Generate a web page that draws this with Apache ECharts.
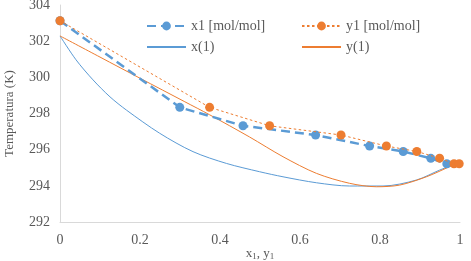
<!DOCTYPE html>
<html><head><meta charset="utf-8">
<script src="https://cdn.jsdelivr.net/npm/echarts@6/dist/echarts.min.js"></script>
<style>html,body{margin:0;padding:0;background:#fff}#c{width:471px;height:261px}</style>
</head><body><div id="c"></div>
<script>
// Experimental points
const expX1 = [0, 0.2995, 0.4575, 0.639, 0.774, 0.858, 0.927, 0.967];
const expTx = [303.13, 298.34, 297.32, 296.81, 296.20, 295.90, 295.52, 295.22];
const expY1 = [0, 0.374, 0.524, 0.7025, 0.816, 0.892, 0.949, 0.985, 0.998];
const expTy = [303.13, 298.34, 297.32, 296.81, 296.20, 295.90, 295.53, 295.22, 295.22];
// Model curves
const modX = [0, 0.04, 0.0825, 0.125, 0.166, 0.249, 0.3325, 0.416, 0.499, 0.5575, 0.641, 0.724, 0.8075, 0.891, 0.949, 1];
const modTx = [302.29, 300.97, 299.86, 298.92, 298.19, 296.91, 295.89, 295.24, 294.78, 294.5, 294.17, 293.99, 293.99, 294.32, 294.87, 295.32];
const modY = [0, 0.1, 0.2, 0.312, 0.374, 0.474, 0.5575, 0.641, 0.724, 0.791, 0.849, 0.916, 0.974, 1];
const modTy = [302.29, 301.12, 299.95, 298.65, 297.93, 296.7, 295.61, 294.69, 294.14, 293.95, 294.04, 294.5, 295.06, 295.32];
const xTicks = {min: 0, max: 1, interval: 0.2};
const yTicks = {min: 292, max: 304, interval: 2};
const names = ['x1 [mol/mol]', 'y1 [mol/mol]', 'x(1)', 'y(1)'];

const zip = (a, b) => a.map((v, i) => [v, b[i]]);
const BLUE = '#5B9BD5', ORANGE = '#ED7D31';
const FONT = '"Liberation Serif", "Times New Roman", serif';
const txt = {fontFamily: FONT, fontSize: 14, color: '#595959'};
const leg = (name, left, top, noSym) => {
  const l = {
    data: [name], left: left, top: top, itemWidth: 39, itemHeight: 11, itemGap: 5,
    padding: 0, textStyle: Object.assign({}, txt)
  };
  if (noSym) l.itemStyle = {color: 'rgba(0,0,0,0)', borderColor: 'rgba(0,0,0,0)', borderWidth: 0, opacity: 0};
  return l;
};

const chart = echarts.init(document.getElementById('c'), null, {renderer: 'canvas'});
chart.setOption({
  animation: false,
  backgroundColor: '#fff',
  grid: {left: 60, right: 11, top: 5, bottom: 39, containLabel: false, outerBoundsMode: 'none'},
  legend: [leg(names[0], 146, 19), leg(names[1], 301, 19), leg(names[2], 146, 40, true), leg(names[3], 301, 40, true)],
  xAxis: {
    type: 'value', min: xTicks.min, max: xTicks.max, interval: xTicks.interval,
    name: 'x{s|1}, y{s|1}', nameLocation: 'middle', nameGap: 24, nameMoveOverlap: false,
    nameTextStyle: {fontFamily: FONT, fontSize: 13, color: '#595959', rich: {s: {fontFamily: FONT, fontSize: 9, color: '#595959', verticalAlign: 'bottom', padding: [6, 0, 0, 0]}}},
    axisLine: {show: true, lineStyle: {color: '#D9D9D9', width: 1}},
    axisTick: {show: false}, splitLine: {show: false},
    axisLabel: Object.assign({margin: 11}, txt)
  },
  yAxis: {
    type: 'value', min: yTicks.min, max: yTicks.max, interval: yTicks.interval,
    name: 'Temperatura (K)', nameLocation: 'middle', nameGap: 44, nameRotate: 90,
    nameTextStyle: {fontFamily: FONT, fontSize: 13, color: '#595959'},
    axisLine: {show: true, lineStyle: {color: '#D9D9D9', width: 1}},
    axisTick: {show: false}, splitLine: {show: false},
    axisLabel: Object.assign({margin: 10}, txt)
  },
  series: [
    {name: names[0], type: 'line', data: zip(expX1, expTx), symbol: 'circle', symbolSize: 9, showSymbol: true,
     itemStyle: {color: BLUE}, lineStyle: {color: BLUE, width: 2.5, type: [9, 5]}, z: 3},
    {name: names[1], type: 'line', data: zip(expY1, expTy), symbol: 'circle', symbolSize: 9, showSymbol: true,
     itemStyle: {color: ORANGE}, lineStyle: {color: ORANGE, width: 1, type: [2.5, 2.5]}, z: 4},
    {name: names[2], type: 'line', data: zip(modX, modTx), symbol: 'none', smooth: 0.3,
     itemStyle: {color: BLUE}, lineStyle: {color: BLUE, width: 1}, z: 2},
    {name: names[3], type: 'line', data: zip(modY, modTy), symbol: 'none', smooth: 0.3,
     itemStyle: {color: ORANGE}, lineStyle: {color: ORANGE, width: 1}, z: 2}
  ]
});
</script></body></html>
